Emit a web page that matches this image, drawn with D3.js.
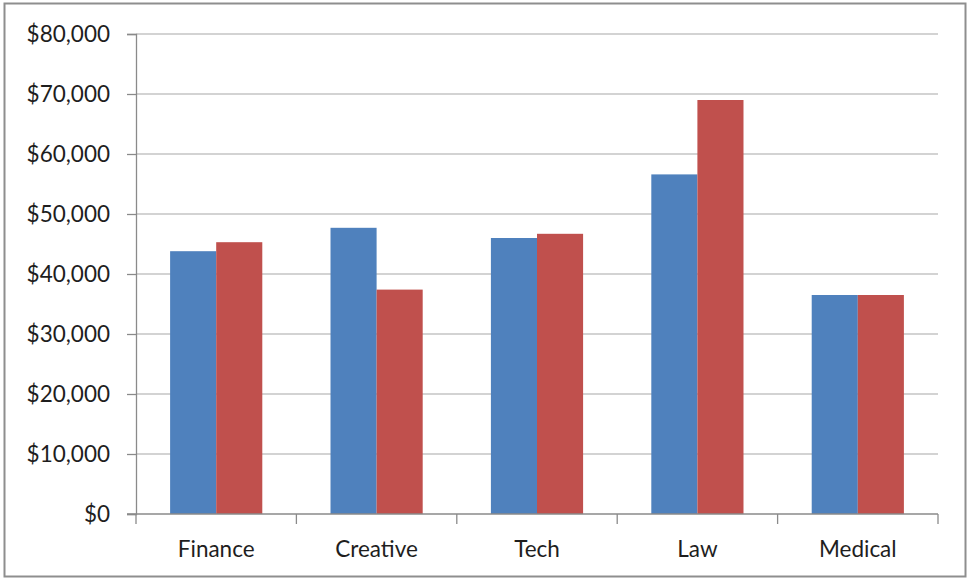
<!DOCTYPE html>
<html>
<head>
<meta charset="utf-8">
<script src="https://cdn.jsdelivr.net/npm/d3@7"></script>
<style>
  html, body { margin: 0; padding: 0; background: #fff; }
  svg { display: block; }
</style>
</head>
<body>
<svg id="chart" width="967" height="579"></svg>
<script>
// Chart data
const categories = ["Finance", "Creative", "Tech", "Law", "Medical"];
const seriesA = [43800, 47700, 46000, 56600, 36500]; // blue
const seriesB = [45300, 37400, 46700, 69000, 36500]; // red
const yTicks = [0, 10000, 20000, 30000, 40000, 50000, 60000, 70000, 80000];

const colors = ["#4f81bd", "#c0504d"];
const font = "Lato, 'Open Sans', sans-serif";

const svg = d3.select("#chart");
const margin = { left: 136, right: 29, top: 34, bottom: 65 };
const width = 967, height = 579;

// Outer frame
svg.append("rect")
    .attr("x", 4.5).attr("y", 3.5)
    .attr("width", 961).attr("height", 573)
    .attr("fill", "#fff")
    .attr("stroke", "#8e8e8e")
    .attr("stroke-width", 2);

const x = d3.scaleBand()
    .domain(categories)
    .range([margin.left, width - margin.right])
    .paddingInner(0)
    .paddingOuter(0);

const y = d3.scaleLinear()
    .domain([0, 80000])
    .range([height - margin.bottom, margin.top]);

const inner = d3.scaleBand()
    .domain([0, 1])
    .range([0, x.bandwidth()])
    .paddingInner(0)
    .paddingOuter(0.74);

// Gridlines
svg.append("g")
    .selectAll("line")
    .data(yTicks.filter(d => d > 0))
    .join("line")
    .attr("x1", margin.left)
    .attr("x2", width - margin.right)
    .attr("y1", d => y(d))
    .attr("y2", d => y(d))
    .attr("stroke", "#c4c4c4")
    .attr("stroke-width", 1.5);

// Bars
const groups = svg.append("g")
    .selectAll("g")
    .data(categories)
    .join("g")
    .attr("transform", d => `translate(${x(d)},0)`);

groups.selectAll("rect")
    .data((d, i) => [seriesA[i], seriesB[i]])
    .join("rect")
    .attr("x", (d, j) => inner(j))
    .attr("width", inner.bandwidth())
    .attr("y", d => y(d))
    .attr("height", d => y(0) - y(d))
    .attr("fill", (d, j) => colors[j]);

// Y axis
const yAxis = d3.axisLeft(y)
    .tickValues(yTicks)
    .tickSize(9)
    .tickPadding(17)
    .tickFormat(d => "$" + d3.format(",")(d));

const yg = svg.append("g")
    .attr("transform", `translate(${margin.left},0)`)
    .call(yAxis);

// X axis with ticks at category boundaries
const xg = svg.append("g")
    .attr("transform", `translate(0,${y(0)})`);

xg.append("line")
    .attr("x1", margin.left - 9)
    .attr("x2", width - margin.right)
    .attr("stroke", "#8a8a8a")
    .attr("stroke-width", 1.3);

const boundaries = categories.map(c => x(c)).concat([x(categories[categories.length - 1]) + x.bandwidth()]);
xg.selectAll("line.tick")
    .data(boundaries)
    .join("line")
    .attr("class", "tick")
    .attr("x1", d => d).attr("x2", d => d)
    .attr("y1", 0).attr("y2", 10)
    .attr("stroke", "#8a8a8a")
    .attr("stroke-width", 1.3);

xg.selectAll("text")
    .data(categories)
    .join("text")
    .attr("x", d => x(d) + x.bandwidth() / 2)
    .attr("y", 43)
    .attr("text-anchor", "middle")
    .attr("fill", "#1e1e1e")
    .style("font-family", font)
    .style("font-size", "22.5px")
    .text(d => d);

yg.select(".domain").attr("stroke", "#8a8a8a").attr("stroke-width", 1.3);
yg.selectAll(".tick line").attr("stroke", "#8a8a8a").attr("stroke-width", 1.3);
yg.selectAll(".tick text")
    .attr("fill", "#1e1e1e")
    .style("font-family", font)
    .style("font-size", "22.5px");
</script>
</body>
</html>
